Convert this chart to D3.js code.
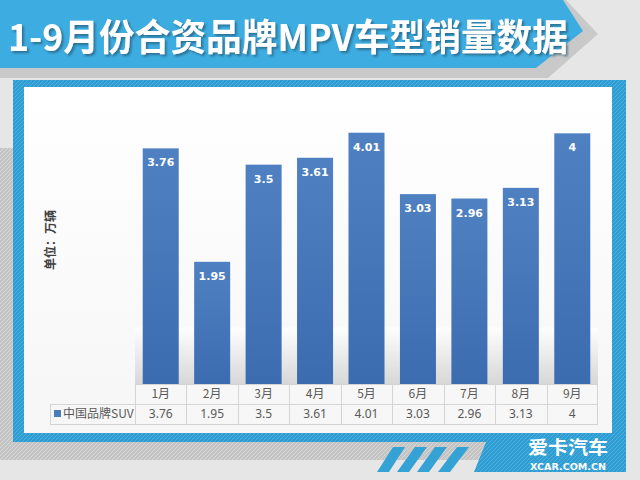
<!DOCTYPE html>
<html><head><meta charset="utf-8">
<script src="https://cdn.jsdelivr.net/npm/d3@7"></script>
<style>html,body{margin:0;padding:0;background:#e6e6e6;}svg{display:block;}</style>
</head><body>
<script>
const categories = ["1月","2月","3月","4月","5月","6月","7月","8月","9月"];
const values = [3.76,1.95,3.5,3.61,4.01,3.03,2.96,3.13,4];
const valueLabels = ["3.76","1.95","3.5","3.61","4.01","3.03","2.96","3.13","4"];
const seriesName = "中国品牌SUV";
const titleText = "1-9月份合资品牌MPV车型销量数据";
const unitText = "单位：万辆";

const W = 640, H = 480;
const svg = d3.select("body").append("svg").attr("width", W).attr("height", H);
const defs = svg.append("defs");

// patterns
const pb = defs.append("pattern").attr("id","blueHatch").attr("patternUnits","userSpaceOnUse")
  .attr("width",4).attr("height",4);
pb.append("rect").attr("width",4).attr("height",4).attr("fill","#2f9dd1");
pb.append("path").attr("d","M-1,1 l2,-2 M0,4 l4,-4 M3,5 l2,-2").attr("stroke","#4cb0de").attr("stroke-width",1);
const pg = defs.append("pattern").attr("id","grayHatch").attr("patternUnits","userSpaceOnUse")
  .attr("width",4).attr("height",4);
pg.append("rect").attr("width",4).attr("height",4).attr("fill","#c4c4c4");
pg.append("path").attr("d","M-1,1 l2,-2 M0,4 l4,-4 M3,5 l2,-2").attr("stroke","#d8d8d8").attr("stroke-width",1);

const barGrad = defs.append("linearGradient").attr("id","barGrad").attr("x1",0).attr("y1",0).attr("x2",0).attr("y2",1);
barGrad.append("stop").attr("offset","0%").attr("stop-color","#4f81c2");
barGrad.append("stop").attr("offset","100%").attr("stop-color","#3c6cb0");
const bgGrad = defs.append("linearGradient").attr("id","bgGrad").attr("x1",0).attr("y1",0).attr("x2",0).attr("y2",1);
bgGrad.append("stop").attr("offset","0%").attr("stop-color","#ffffff");
bgGrad.append("stop").attr("offset","100%").attr("stop-color","#cfcfcf");
const panelGrad = defs.append("linearGradient").attr("id","panelGrad").attr("x1",0).attr("y1",0).attr("x2",0).attr("y2",1);
panelGrad.append("stop").attr("offset","0%").attr("stop-color","#ffffff");
panelGrad.append("stop").attr("offset","100%").attr("stop-color","#f6f6f6");

const shadow = defs.append("filter").attr("id","tshadow").attr("x","-5%").attr("y","-20%").attr("width","110%").attr("height","150%");
shadow.append("feDropShadow").attr("dx",2).attr("dy",2).attr("stdDeviation",1.2)
  .attr("flood-color","#1d4e66").attr("flood-opacity",0.6);

// background
svg.append("rect").attr("width",W).attr("height",H).attr("fill","#e6e6e6");

// title banner
svg.append("path").attr("d","M0,0 L566,0 L598,34 L548,78 L0,78 Z").attr("fill","#c9c9c9");
svg.append("path").attr("d","M0,0 L563,0 L583,31 L536,68 L0,68 Z").attr("fill","#3dace0");
svg.append("text").attr("x",8).attr("y",51).text(titleText)
  .attr("font-family","'Noto Sans CJK SC', sans-serif").attr("font-weight","bold").attr("font-size",37)
  .attr("textLength",560).attr("lengthAdjust","spacingAndGlyphs").attr("fill","#ffffff")
  .attr("filter","url(#tshadow)");

// gray hatch behind frame
svg.append("path").attr("d","M0,148 L20,148 L20,442 L486,442 L480,460 L0,460 Z").attr("fill","url(#grayHatch)");
// blue frame
svg.append("path").attr("d","M13,80 L626,80 L626,472 L474,472 L486,442 L13,442 Z").attr("fill","url(#blueHatch)");
// blue stripes
[[393,405,377,389],[415,427,397,409],[435,447,417,429],[457,469,438,450]].forEach(s=>{
  svg.append("path").attr("d",`M${s[0]},447 L${s[1]},447 L${s[3]},472 L${s[2]},472 Z`).attr("fill","#35a2d5");
});
// white panel
svg.append("rect").attr("x",24).attr("y",87).attr("width",588).attr("height",346).attr("fill","url(#panelGrad)");

// scales
const x = d3.scaleBand().domain(categories).range([135,598]).paddingInner(0.3).paddingOuter(0.15);
const y = d3.scaleLinear().domain([0,4.5]).range([384,102]);
const step = x.step();
const colStart = d => x(d) - step*x.paddingInner()/2;

// plot area lower shading
svg.append("rect").attr("x",135).attr("y",y(0.9)).attr("width",463).attr("height",y(0)-y(0.9))
  .attr("fill","url(#bgGrad)").attr("opacity",0.8);

// bars
svg.selectAll("rect.bar").data(values).join("rect").attr("class","bar")
  .attr("x",(d,i)=>x(categories[i])).attr("width",x.bandwidth())
  .attr("y",d=>y(d)).attr("height",d=>y(0)-y(d)).attr("fill","url(#barGrad)");

// data labels
svg.selectAll("text.dl").data(values).join("text").attr("class","dl")
  .attr("x",(d,i)=>x(categories[i])+x.bandwidth()/2).attr("y",d=>y(d)+18)
  .attr("text-anchor","middle").attr("fill","#ffffff").attr("font-weight","bold")
  .attr("font-family","'DejaVu Sans', 'Liberation Sans', sans-serif").attr("font-size",11)
  .text((d,i)=>valueLabels[i]);

// unit label
svg.append("text").attr("transform","translate(55,240) rotate(-90)").attr("text-anchor","middle")
  .attr("font-family","'Noto Sans CJK SC', sans-serif").attr("font-size",12).attr("font-weight","bold").attr("fill","#404040")
  .text(unitText);

// data table
const tbl = svg.append("g").attr("stroke","#d4d4d4").attr("stroke-width",1).attr("fill","none");
tbl.append("line").attr("x1",135).attr("x2",598).attr("y1",384.5).attr("y2",384.5);
tbl.append("line").attr("x1",50).attr("x2",598).attr("y1",404.5).attr("y2",404.5);
tbl.append("line").attr("x1",50).attr("x2",598).attr("y1",424.5).attr("y2",424.5);
tbl.append("line").attr("x1",50.5).attr("x2",50.5).attr("y1",404).attr("y2",424);
categories.forEach(c=>{
  const xx = Math.round(colStart(c))+0.5;
  tbl.append("line").attr("x1",xx).attr("x2",xx).attr("y1",384).attr("y2",424);
});
tbl.append("line").attr("x1",597.5).attr("x2",597.5).attr("y1",384).attr("y2",424);

// header labels via axis
const ax = svg.append("g").attr("transform","translate(0,384)")
  .call(d3.axisBottom(x).tickSize(0).tickPadding(5));
ax.select(".domain").remove();
ax.selectAll("text").attr("font-family","'Noto Sans CJK SC', sans-serif").attr("font-size",12).attr("fill","#595959");

// values row
svg.selectAll("text.tv").data(values).join("text").attr("class","tv")
  .attr("x",(d,i)=>x(categories[i])+x.bandwidth()/2).attr("y",418)
  .attr("text-anchor","middle").attr("fill","#595959")
  .attr("font-family","'Noto Sans', sans-serif").attr("font-size",12)
  .text((d,i)=>valueLabels[i]);

// legend cell
svg.append("rect").attr("x",54).attr("y",410).attr("width",7).attr("height",7).attr("fill","#4a7cbd");
svg.append("text").attr("x",63).attr("y",418).attr("fill","#595959")
  .attr("font-family","'Noto Sans CJK SC', sans-serif").attr("font-size",12).text(seriesName);

// logo
svg.append("text").attr("x",568).attr("y",454).attr("text-anchor","middle").attr("fill","#ffffff")
  .attr("font-family","'Noto Sans CJK SC', sans-serif").attr("font-weight","bold").attr("font-size",18)
  .attr("textLength",80).attr("lengthAdjust","spacingAndGlyphs").text("爱卡汽车");
svg.append("text").attr("x",568).attr("y",470).attr("text-anchor","middle").attr("fill","#ffffff")
  .attr("font-family","'DejaVu Sans', sans-serif").attr("font-weight","bold").attr("font-size",8)
  .attr("textLength",76).attr("lengthAdjust","spacingAndGlyphs").text("XCAR.COM.CN");
</script>
</body></html>
